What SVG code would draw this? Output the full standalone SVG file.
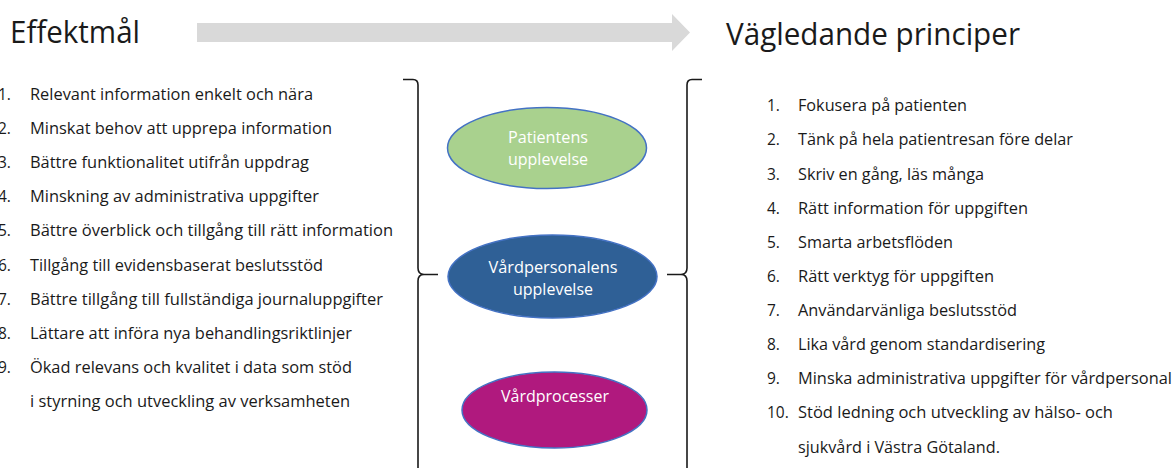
<svg xmlns="http://www.w3.org/2000/svg" width="1173" height="468" viewBox="0 0 1173 468">
<style>
text{font-family:"Open Sans","Liberation Sans",sans-serif;fill:#1a1a1a}
.t{font-size:31px}
.li{font-size:15.5px}
.el{font-size:16px;fill:#ffffff;text-anchor:middle}
.br{fill:none;stroke:#1a1a1a;stroke-width:1.6}
.ov{stroke:#4472c4;stroke-width:1.5}
</style>
<rect width="1173" height="468" fill="#ffffff"/>
<g id="title-left"><text class="t" x="10" y="43" textLength="130" lengthAdjust="spacingAndGlyphs">Effektmål</text></g>
<g id="title-right"><text class="t" x="726" y="45" textLength="294" lengthAdjust="spacingAndGlyphs">Vägledande principer</text></g>
<g id="arrow"><polygon points="197,23 672,23 672,14 690,32.5 672,51 672,42 197,42" fill="#d9d9d9"/></g>
<g id="list-left" class="li">
<text class="li" x="-2" y="99.5">1.</text><text class="li" x="30" y="99.5" textLength="283" lengthAdjust="spacingAndGlyphs">Relevant information enkelt och nära</text>
<text class="li" x="-2" y="133.7">2.</text><text class="li" x="30" y="133.7" textLength="302" lengthAdjust="spacingAndGlyphs">Minskat behov att upprepa information</text>
<text class="li" x="-2" y="167.9">3.</text><text class="li" x="30" y="167.9" textLength="279" lengthAdjust="spacingAndGlyphs">Bättre funktionalitet utifrån uppdrag</text>
<text class="li" x="-2" y="202.1">4.</text><text class="li" x="30" y="202.1" textLength="289" lengthAdjust="spacingAndGlyphs">Minskning av administrativa uppgifter</text>
<text class="li" x="-2" y="236.3">5.</text><text class="li" x="30" y="236.3" textLength="363" lengthAdjust="spacingAndGlyphs">Bättre överblick och tillgång till rätt information</text>
<text class="li" x="-2" y="270.5">6.</text><text class="li" x="30" y="270.5" textLength="293" lengthAdjust="spacingAndGlyphs">Tillgång till evidensbaserat beslutsstöd</text>
<text class="li" x="-2" y="304.7">7.</text><text class="li" x="30" y="304.7" textLength="353" lengthAdjust="spacingAndGlyphs">Bättre tillgång till fullständiga journaluppgifter</text>
<text class="li" x="-2" y="338.9">8.</text><text class="li" x="30" y="338.9" textLength="322" lengthAdjust="spacingAndGlyphs">Lättare att införa nya behandlingsriktlinjer</text>
<text class="li" x="-2" y="373.1">9.</text><text class="li" x="30" y="373.1" textLength="322" lengthAdjust="spacingAndGlyphs">Ökad relevans och kvalitet i data som stöd</text>
<text class="li" x="30" y="407.3" textLength="320" lengthAdjust="spacingAndGlyphs">i styrning och utveckling av verksamheten</text>
</g>
<g id="list-right">
<text class="li" x="767" y="110.5">1.</text><text class="li" x="798" y="110.5" textLength="169" lengthAdjust="spacingAndGlyphs">Fokusera på patienten</text>
<text class="li" x="767" y="145">2.</text><text class="li" x="798" y="145" textLength="275" lengthAdjust="spacingAndGlyphs">Tänk på hela patientresan före delar</text>
<text class="li" x="767" y="179.5">3.</text><text class="li" x="798" y="179.5" textLength="186" lengthAdjust="spacingAndGlyphs">Skriv en gång, läs många</text>
<text class="li" x="767" y="213.5">4.</text><text class="li" x="798" y="213.5" textLength="230" lengthAdjust="spacingAndGlyphs">Rätt information för uppgiften</text>
<text class="li" x="767" y="247.5">5.</text><text class="li" x="798" y="247.5" textLength="155" lengthAdjust="spacingAndGlyphs">Smarta arbetsflöden</text>
<text class="li" x="767" y="281.5">6.</text><text class="li" x="798" y="281.5" textLength="196" lengthAdjust="spacingAndGlyphs">Rätt verktyg för uppgiften</text>
<text class="li" x="767" y="315.5">7.</text><text class="li" x="798" y="315.5" textLength="219" lengthAdjust="spacingAndGlyphs">Användarvänliga beslutsstöd</text>
<text class="li" x="767" y="349.5">8.</text><text class="li" x="798" y="349.5" textLength="247" lengthAdjust="spacingAndGlyphs">Lika vård genom standardisering</text>
<text class="li" x="767" y="383.5">9.</text><text class="li" x="798" y="383.5" textLength="374" lengthAdjust="spacingAndGlyphs">Minska administrativa uppgifter för vårdpersonal</text>
<text class="li" x="767" y="417.5">10.</text><text class="li" x="798" y="417.5" textLength="315" lengthAdjust="spacingAndGlyphs">Stöd ledning och utveckling av hälso- och</text>
<text class="li" x="798" y="452.5" textLength="202" lengthAdjust="spacingAndGlyphs">sjukvård i Västra Götaland.</text>
</g>
<g id="connectors">
<path class="br" d="M403,79.5 H413 Q418,79.5 418,85 V268 Q418,274.5 424,274.5 H438 M424,274.5 Q418,274.5 418,281 V470"/>
<path class="br" d="M702,79.5 H692 Q687,79.5 687,85 V268 Q687,274.5 681,274.5 H667 M681,274.5 Q687,274.5 687,281 V470"/>
</g>
<g id="node-patient">
<ellipse class="ov" cx="547" cy="148" rx="99.5" ry="40.5" fill="#a9d18e"/>
<text class="el" x="548" y="143" textLength="80" lengthAdjust="spacingAndGlyphs">Patientens</text>
<text class="el" x="548" y="165" textLength="80" lengthAdjust="spacingAndGlyphs">upplevelse</text>
</g>
<g id="node-vardpersonal">
<ellipse class="ov" cx="552.5" cy="276.5" rx="104.5" ry="41.5" fill="#2f6096"/>
<text class="el" x="553" y="273" textLength="129" lengthAdjust="spacingAndGlyphs">Vårdpersonalens</text>
<text class="el" x="553" y="295" textLength="80" lengthAdjust="spacingAndGlyphs">upplevelse</text>
</g>
<g id="node-vardprocesser">
<ellipse class="ov" cx="554.5" cy="410" rx="92.5" ry="38" fill="#b0197e"/>
<text class="el" x="555" y="401.5" textLength="108" lengthAdjust="spacingAndGlyphs">Vårdprocesser</text>
</g>
</svg>
